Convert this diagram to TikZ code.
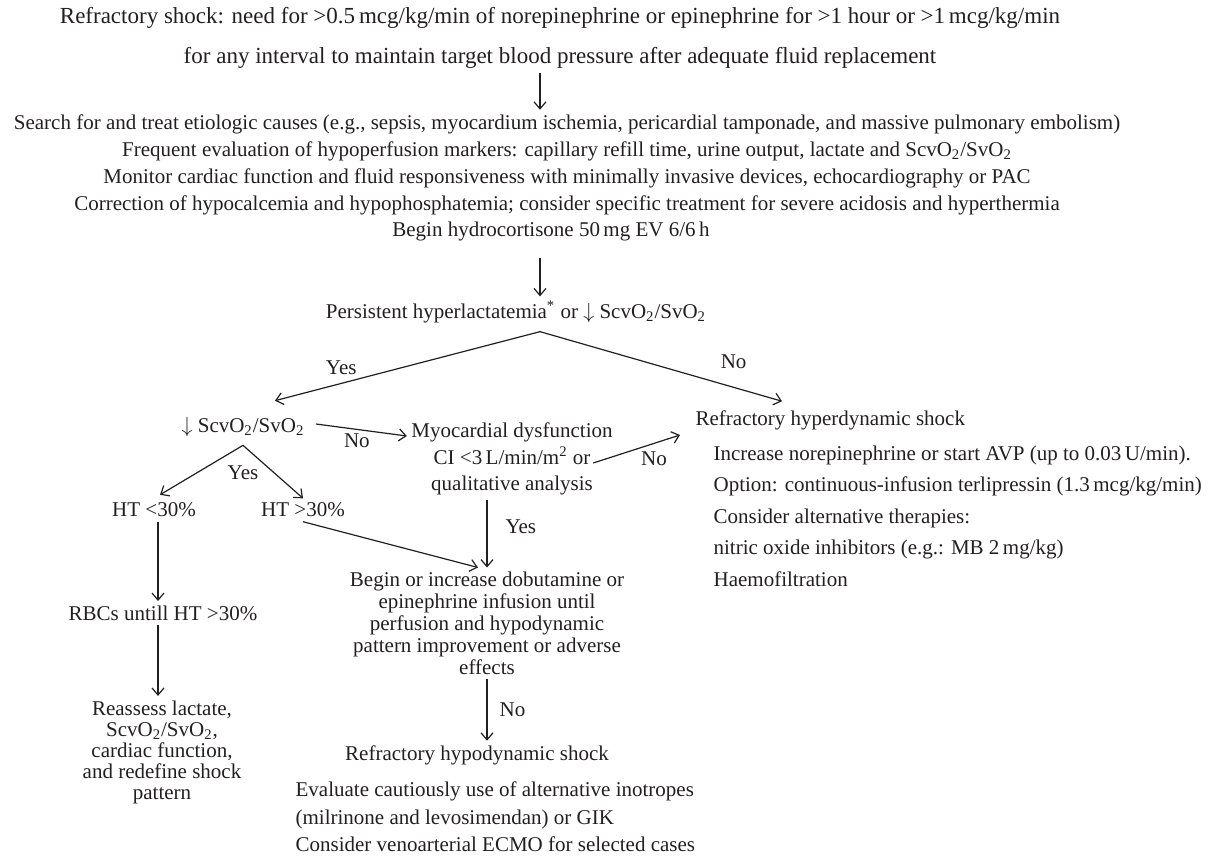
\documentclass[tikz,border=0pt]{standalone}
\usepackage{fontspec}
\setmainfont{Liberation Serif}
\usepackage{tikz}
\usetikzlibrary{arrows.meta}
\definecolor{ink}{RGB}{35,31,32}

\begin{document}
\begin{tikzpicture}[x=0.5pt,y=-0.5pt,>={Straight Barb[length=3.5pt,width=6pt]},line width=0.6pt,draw=ink,
    every node/.style={inner sep=2pt,align=center,text=ink,font=\fontsize{10.5}{13.5}\selectfont},
    big/.style={font=\fontsize{11.5}{14}\selectfont}]
\useasboundingbox (0,0) rectangle (1220,856);
\coordinate (axis) at (540,0);
\coordinate (leftaxis) at (158,0);
\node[big] (top1) at (560,18) {Refractory shock: need for >0.5\,mcg/kg/min of norepinephrine or epinephrine for >1 hour or >1\,mcg/kg/min};
\node[big] (top2) at (560,58) {for any interval to maintain target blood pressure after adequate fluid replacement};
\node (care) at (567,164.5) {Search for and treat etiologic causes (e.g., sepsis, myocardium ischemia, pericardial tamponade, and massive pulmonary embolism)\\
  Frequent evaluation of hypoperfusion markers: capillary refill time, urine output, lactate and ScvO\textsubscript{2}/SvO\textsubscript{2}\\
  Monitor cardiac function and fluid responsiveness with minimally invasive devices, echocardiography or PAC\\
  Correction of hypocalcemia and hypophosphatemia; consider specific treatment for severe acidosis and hyperthermia};
\node (hc) at (551,231) {Begin hydrocortisone 50\,mg EV 6/6\,h};
\node (dec) at (516,312) {Persistent hyperlactatemia\textsuperscript{*} or $\downarrow$ ScvO\textsubscript{2}/SvO\textsubscript{2}};
\coordinate[yshift=-2pt] (split) at (dec.south -| axis);
\node (low) at (243,427) {$\downarrow$ ScvO\textsubscript{2}/SvO\textsubscript{2}};
\node[font=\fontsize{10.5}{13.25}\selectfont] (myo) at (512,459) {Myocardial dysfunction\\ CI <3\,L/min/m\textsuperscript{2} or\\ qualitative analysis};
\node[anchor=west] (hyper) at (691,420) {Refractory hyperdynamic shock};
\node[anchor=west,align=left,font=\fontsize{10.5}{15.75}\selectfont] (hyperlist) at (709,516) {Increase norepinephrine or start AVP (up to 0.03\,U/min).\\
  Option: continuous-infusion terlipressin (1.3\,mcg/kg/min)\\
  Consider alternative therapies:\\
  nitric oxide inhibitors (e.g.: MB 2\,mg/kg)\\
  Haemofiltration};
\node (ht1) at (154,510) {HT <30\%};
\node (ht2) at (303,510) {HT >30\%};
\node (rbc) at (163,613) {RBCs untill HT >30\%};
\node[font=\fontsize{10.5}{10.5}\selectfont] (reass) at (162,752) {Reassess lactate,\\ ScvO\textsubscript{2}/SvO\textsubscript{2},\\ cardiac function,\\ and redefine shock\\ pattern};
\node[font=\fontsize{10.5}{11}\selectfont] (begin) at (487,623.5) {Begin or increase dobutamine or\\ epinephrine infusion until\\ perfusion and hypodynamic\\ pattern improvement or adverse\\ effects};
\node (hypo) at (477,755) {Refractory hypodynamic shock};
\node[anchor=west,align=left,font=\fontsize{10.5}{13.75}\selectfont] (hypolist) at (291,817) {Evaluate cautiously use of alternative inotropes\\
  (milrinone and levosimendan) or GIK\\
  Consider venoarterial ECMO for selected cases};
\coordinate[yshift=-2pt] (lsplit) at (low.south);

\draw[->] (top2.south -| axis) -- (care.north -| axis);
\draw[->,shorten <=6.5pt] (hc.south -| axis) -- (dec.north -| axis);
\draw[->] (split) -- node[pos=0.75,above=2pt] (yes1) {Yes} ([xshift=16pt,yshift=6pt]low.north);
\draw[->] (split) -- node[pos=0.8,above=7pt] (no1) {No} ([xshift=45.5pt,yshift=2.25pt]hyper.north west);
\draw[->] ([xshift=3.5pt,yshift=1.5pt]low.east) -- node[pos=0.45,below] (no2) {No} ([yshift=11.5pt]myo.west);
\draw[->] ([xshift=-12pt,yshift=-2pt]myo.east) -- node[pos=0.7,below=2pt] (no3) {No} ([xshift=-5.5pt,yshift=-7.5pt]hyper.west);
\draw[->] (lsplit) -- ([xshift=3pt,yshift=1.75pt]ht1.north);
\draw[->] (lsplit) -- (ht2.north);
\node[below=8pt] (yes2) at (lsplit) {Yes};
\draw[->] (ht1.south -| leftaxis) -- (rbc.north -| leftaxis);
\draw[->] (rbc.south -| leftaxis) -- (reass.north -| leftaxis);
\draw[->] (ht2.south) -- ([xshift=-4.5pt]begin.north);
\draw[->] (begin.north |- myo.south) -- node[pos=0.4,right=7pt] (yes3) {Yes} (begin.north);
\draw[->] (begin.south) -- node[right=4pt] (no4) {No} (begin.south |- hypo.north);
\end{tikzpicture}
\end{document}
